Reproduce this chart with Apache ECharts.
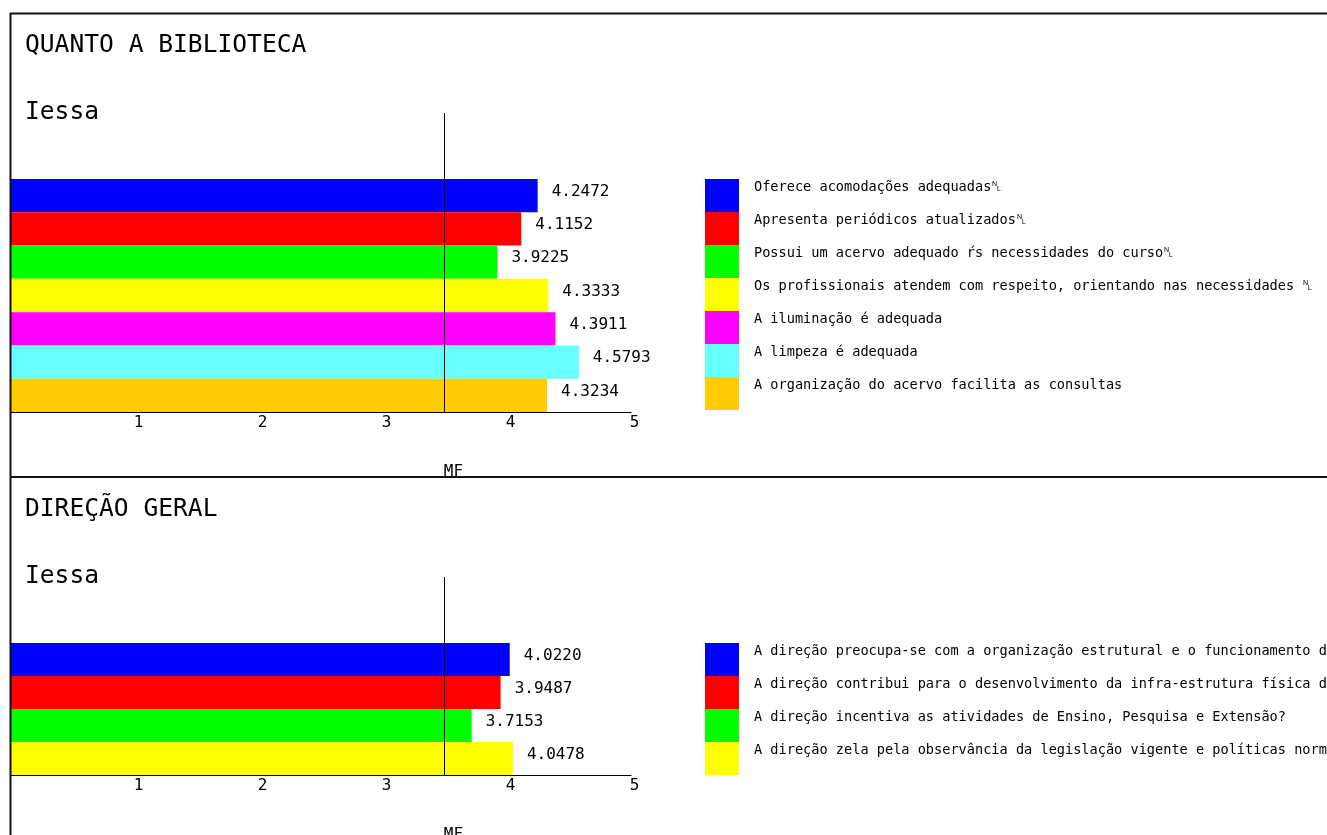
<!DOCTYPE html>
<html>
<head>
<meta charset="utf-8">
<script src="https://cdn.jsdelivr.net/npm/echarts@6/dist/echarts.min.js"></script>
<style>
html,body{margin:0;padding:0;background:#fff;}
#c{width:1327px;height:835px;}
</style>
</head>
<body>
<div id="c"></div>
<script>
// ---- data ----
const panel1Title = 'QUANTO A BIBLIOTECA';
const panel2Title = 'DIREÇÃO GERAL';
const subTitle = 'Iessa';
const mfLabel = 'MF';
const mfValue = 3.496;
const xTicks = [1, 2, 3, 4, 5];

const bibCategories = [
  'Oferece acomodações adequadas\u2424',
  'Apresenta periódicos atualizados\u2424',
  'Possui um acervo adequado ŕs necessidades do curso\u2424',
  'Os profissionais atendem com respeito, orientando nas necessidades \u2424',
  'A iluminação é adequada',
  'A limpeza é adequada',
  'A organização do acervo facilita as consultas'
];
const bibValues = [4.2472, 4.1152, 3.9225, 4.3333, 4.3911, 4.5793, 4.3234];
const bibColors = ['#0000FF', '#FF0000', '#00FF00', '#FFFF00', '#FF00FF', '#66FFFF', '#FFCC00'];

const dirCategories = [
  'A direção preocupa-se com a organização estrutural e o funcionamento da instituição?',
  'A direção contribui para o desenvolvimento da infra-estrutura física da instituição?',
  'A direção incentiva as atividades de Ensino, Pesquisa e Extensão?',
  'A direção zela pela observância da legislação vigente e políticas normativas?'
];
const dirValues = [4.0220, 3.9487, 3.7153, 4.0478];
const dirColors = ['#0000FF', '#FF0000', '#00FF00', '#FFFF00'];

// ---- chart ----
const FONT = 'DejaVu Sans Mono';
const chart = echarts.init(document.getElementById('c'));

function barSeries(cats, vals, colors, axisIdx, stack) {
  return cats.map((name, i) => ({
    type: 'bar',
    name: name,
    xAxisIndex: axisIdx,
    yAxisIndex: axisIdx,
    stack: stack,
    barCategoryGap: '0%',
    itemStyle: { color: colors[i] },
    label: {
      show: true,
      position: 'right',
      distance: 14,
      offset: [0, -4],
      fontFamily: FONT,
      fontSize: 16,
      color: '#000',
      formatter: p => Number(p.value).toFixed(4)
    },
    data: cats.map((c, j) => (j === i ? vals[i] : '-'))
  }));
}

function mfSeries(axisIdx) {
  return {
    type: 'line',
    xAxisIndex: axisIdx,
    yAxisIndex: axisIdx,
    symbol: 'circle',
    symbolSize: 1,
    itemStyle: { color: 'rgba(0,0,0,0)' },
    lineStyle: { color: '#000', width: 1 },
    silent: true,
    data: [
      { value: [mfValue, 0], label: { show: true, formatter: mfLabel, position: 'bottom', distance: 51, offset: [9, 0], fontFamily: FONT, fontSize: 16, color: '#000' } },
      [mfValue, 1]
    ]
  };
}

function valueAxis(gridIdx, visible) {
  return {
    type: 'value', gridIndex: gridIdx, min: 0, max: 5, interval: 1,
    show: visible,
    axisLine: { show: true, lineStyle: { color: '#000', width: 1 } },
    axisTick: { show: false },
    splitLine: { show: false },
    axisLabel: {
      show: true, showMinLabel: false, margin: 3, fontFamily: FONT, fontSize: 16, color: '#000',
      padding: [0, 0, 0, 7],
      formatter: v => (xTicks.indexOf(v) >= 0 ? String(v) : '')
    }
  };
}

function legendCfg(names, top) {
  return {
    data: names, orient: 'vertical', left: 705, top: top, padding: 0,
    itemWidth: 34, itemHeight: 33, itemGap: 0, icon: 'rect', selectedMode: false,
    formatter: n => n + '\n ',
    textStyle: { fontFamily: FONT, fontSize: 13.6, color: '#000', lineHeight: 16.5, padding: [0, 0, 0, 10] }
  };
}

const titleStyle = { fontFamily: FONT, fontSize: 24.6, fontWeight: 'normal', color: '#000' };

const option = {
  animation: false,
  backgroundColor: '#fff',
  title: [
    { text: panel1Title, left: 25, top: 33, padding: 0, textStyle: titleStyle },
    { text: subTitle, left: 25, top: 100, padding: 0, textStyle: titleStyle },
    { text: panel2Title, left: 25, top: 497, padding: 0, textStyle: titleStyle },
    { text: subTitle, left: 25, top: 564, padding: 0, textStyle: titleStyle }
  ],
  legend: [legendCfg(bibCategories, 179), legendCfg(dirCategories, 643)],
  grid: [
    { left: 11, top: 179, width: 620, height: 233 },
    { left: 11, top: 643, width: 620, height: 132 },
    { left: 11, top: 113, width: 620, height: 299 },
    { left: 11, top: 577, width: 620, height: 198 }
  ],
  xAxis: [valueAxis(0, true), valueAxis(1, true), valueAxis(2, false), valueAxis(3, false)],
  yAxis: [
    { type: 'category', gridIndex: 0, data: bibCategories, inverse: true, axisLine: { show: false }, axisTick: { show: false }, axisLabel: { show: false } },
    { type: 'category', gridIndex: 1, data: dirCategories, inverse: true, axisLine: { show: false }, axisTick: { show: false }, axisLabel: { show: false } },
    { type: 'value', gridIndex: 2, min: 0, max: 1, show: false },
    { type: 'value', gridIndex: 3, min: 0, max: 1, show: false }
  ],
  series: [
    ...barSeries(bibCategories, bibValues, bibColors, 0, 'bib'),
    ...barSeries(dirCategories, dirValues, dirColors, 1, 'dir'),
    mfSeries(2),
    mfSeries(3)
  ],
  graphic: [
    { type: 'line', z: 100, shape: { x1: 10, y1: 13.5, x2: 1327, y2: 13.5 }, style: { stroke: '#111', lineWidth: 2 } },
    { type: 'line', z: 100, shape: { x1: 10.5, y1: 13, x2: 10.5, y2: 835 }, style: { stroke: '#111', lineWidth: 2 } },
    { type: 'line', z: 100, shape: { x1: 10, y1: 477, x2: 1327, y2: 477 }, style: { stroke: '#111', lineWidth: 2 } }
  ]
};
chart.setOption(option);
</script>
</body>
</html>
